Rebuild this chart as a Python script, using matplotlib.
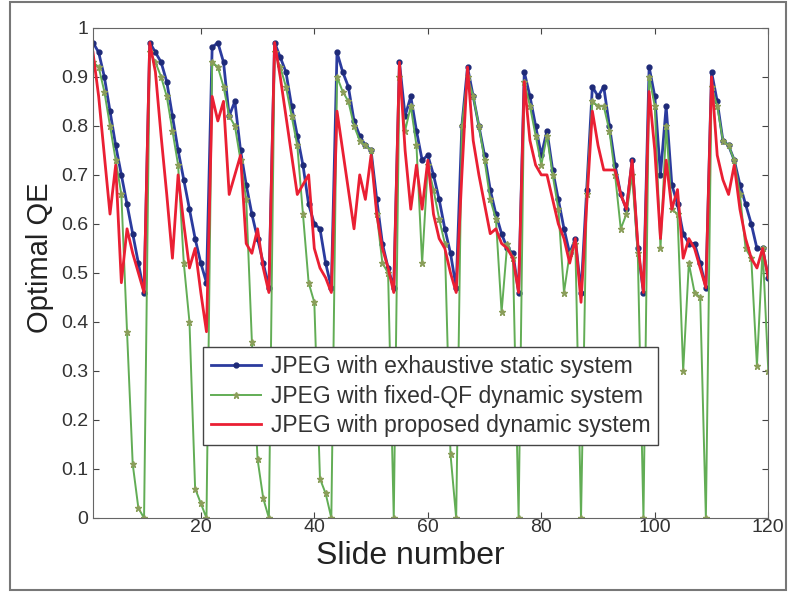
import matplotlib
matplotlib.use("Agg")
import matplotlib.pyplot as plt
from matplotlib.patches import Rectangle

plt.rcParams['font.family'] = ['Liberation Sans', 'DejaVu Sans']

slides = list(range(1, 121))

# one row per presentation (slide groups)
exhaustive_static = (
    [0.97, 0.95, 0.90, 0.83, 0.76, 0.70, 0.64, 0.58, 0.52, 0.46]
    + [0.97, 0.95, 0.93, 0.89, 0.82, 0.75, 0.69, 0.63, 0.57, 0.52, 0.48]
    + [0.96, 0.97, 0.93, 0.82, 0.85, 0.75, 0.68, 0.62, 0.57, 0.52, 0.47]
    + [0.97, 0.94, 0.91, 0.84, 0.78, 0.72, 0.64, 0.60, 0.59, 0.52, 0.47]
    + [0.95, 0.91, 0.88, 0.81, 0.78, 0.76, 0.75, 0.65, 0.56, 0.51, 0.47]
    + [0.93, 0.82, 0.86, 0.79, 0.73, 0.74, 0.70, 0.65, 0.59, 0.54, 0.47, 0.80]
    + [0.92, 0.86, 0.80, 0.74, 0.67, 0.62, 0.58, 0.55, 0.54, 0.46]
    + [0.91, 0.86, 0.80, 0.74, 0.79, 0.71, 0.65, 0.59, 0.54, 0.57, 0.46, 0.67]
    + [0.88, 0.86, 0.88, 0.80, 0.72, 0.66, 0.63, 0.73, 0.55, 0.46]
    + [0.92, 0.86, 0.70, 0.84, 0.68, 0.64, 0.58, 0.56, 0.56, 0.52, 0.47]
    + [0.91, 0.85, 0.77, 0.76, 0.73, 0.68, 0.64, 0.60, 0.55, 0.55, 0.49]
)

fixed_qf_dynamic = (
    [0.93, 0.92, 0.87, 0.80, 0.73, 0.66, 0.38, 0.11, 0.02, 0.00]
    + [0.95, 0.93, 0.90, 0.86, 0.79, 0.72, 0.52, 0.40, 0.06, 0.03, 0.00]
    + [0.93, 0.92, 0.88, 0.82, 0.80, 0.73, 0.65, 0.36, 0.12, 0.04, 0.00]
    + [0.95, 0.92, 0.88, 0.82, 0.76, 0.62, 0.48, 0.44, 0.08, 0.05, 0.00]
    + [0.90, 0.87, 0.85, 0.80, 0.77, 0.76, 0.75, 0.62, 0.52, 0.50, 0.00]
    + [0.90, 0.79, 0.84, 0.76, 0.52, 0.72, 0.67, 0.61, 0.56, 0.13, 0.00, 0.80]
    + [0.90, 0.86, 0.80, 0.73, 0.65, 0.61, 0.42, 0.56, 0.53, 0.00]
    + [0.89, 0.84, 0.78, 0.72, 0.78, 0.70, 0.63, 0.46, 0.54, 0.56, 0.00, 0.66]
    + [0.85, 0.84, 0.84, 0.79, 0.70, 0.59, 0.62, 0.70, 0.54, 0.00]
    + [0.90, 0.84, 0.55, 0.80, 0.63, 0.62, 0.30, 0.52, 0.46, 0.45, 0.00]
    + [0.88, 0.84, 0.77, 0.76, 0.73, 0.66, 0.55, 0.53, 0.31, 0.55, 0.30]
)

proposed_dynamic = (
    [0.95, 0.86, 0.74, 0.62, 0.72, 0.48, 0.59, 0.54, 0.50, 0.46]
    + [0.97, 0.91, 0.78, 0.66, 0.53, 0.70, 0.60, 0.51, 0.55, 0.46, 0.38]
    + [0.86, 0.81, 0.85, 0.66, 0.70, 0.74, 0.56, 0.54, 0.59, 0.51, 0.46]
    + [0.97, 0.90, 0.82, 0.74, 0.66, 0.68, 0.70, 0.55, 0.51, 0.49, 0.46]
    + [0.83, 0.75, 0.67, 0.59, 0.70, 0.65, 0.74, 0.62, 0.55, 0.51, 0.46]
    + [0.93, 0.75, 0.63, 0.72, 0.63, 0.73, 0.62, 0.57, 0.55, 0.50, 0.46, 0.70]
    + [0.92, 0.77, 0.70, 0.64, 0.58, 0.59, 0.56, 0.55, 0.53, 0.46]
    + [0.89, 0.77, 0.72, 0.70, 0.70, 0.65, 0.60, 0.57, 0.52, 0.57, 0.44, 0.64]
    + [0.83, 0.76, 0.71, 0.71, 0.71, 0.66, 0.63, 0.73, 0.56, 0.46]
    + [0.87, 0.75, 0.57, 0.73, 0.63, 0.67, 0.53, 0.57, 0.55, 0.51, 0.47]
    + [0.90, 0.74, 0.69, 0.66, 0.72, 0.63, 0.57, 0.53, 0.51, 0.55, 0.49]
)

labels = ["JPEG with exhaustive static system",
          "JPEG with fixed-QF dynamic system",
          "JPEG with proposed dynamic system"]

fig = plt.figure(figsize=(7.88, 5.92), dpi=100)
ax = fig.add_axes([0.118, 0.125, 0.857, 0.828])

ax.plot(slides, exhaustive_static, color='#2b3b9e', lw=2, marker='.', ms=7,
        mfc='#1e2a78', mec='#1e2a78', label=labels[0])
ax.plot(slides, fixed_qf_dynamic, color='#62ad55', lw=1.4, marker='*', ms=5,
        mfc='#8a9e5a', mec='#8a9e5a', label=labels[1])
ax.plot(slides, proposed_dynamic, color='#ea1f33', lw=2, label=labels[2])

ax.set_xlim(1, 120)
ax.set_ylim(0, 1)
ax.set_xticks([20, 40, 60, 80, 100, 120])
ax.set_yticks([i / 10 for i in range(11)])
ax.set_yticklabels(["0"] + [f"0.{i}" for i in range(1, 10)] + ["1"])
ax.tick_params(direction='in', top=True, right=True, length=4,
               labelsize=14, colors='#444444', labelcolor='#333333')
ax.tick_params(axis='x', pad=1)
for s in ax.spines.values():
    s.set_color('#666666')

# axis titles placed like in the original figure
fig.text(410 / 788, 1 - 556 / 592, "Slide number", fontsize=23,
         color='#222222', ha='center', va='center')
fig.text(40 / 788, 1 - 258 / 592, "Optimal QE", fontsize=21,
         color='#222222', ha='center', va='center', rotation=90)

leg = ax.legend(loc='lower left', bbox_to_anchor=(0.163, 0.149),
                borderaxespad=0, fontsize=16.5, fancybox=False, framealpha=1,
                edgecolor='#444444', handlelength=2.2, labelspacing=0.28,
                borderpad=0.35, handletextpad=0.4)
for t in leg.get_texts():
    t.set_color('#333333')

# outer frame of the picture
fig.patches.append(Rectangle((10 / 788, 2 / 592), 776 / 788, 588 / 592,
                             transform=fig.transFigure, fill=False,
                             edgecolor='#777777', lw=1.5))

fig.savefig("out.png", dpi=100)
